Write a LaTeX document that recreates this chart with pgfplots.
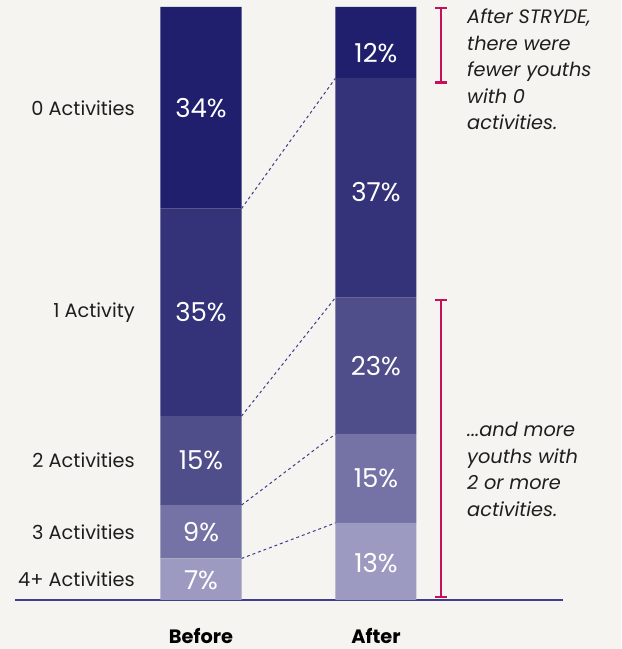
\documentclass[border=0pt]{standalone}
\usepackage{pgfplots}
\pgfplotsset{compat=1.18}
\usepackage{fontspec}
\setmainfont{Poppins}
\definecolor{bg}{HTML}{F5F4F0}
\definecolor{c0}{HTML}{1F1F6E}
\definecolor{c1}{HTML}{34337A}
\definecolor{c2}{HTML}{4F4D8A}
\definecolor{c3}{HTML}{7572A6}
\definecolor{c4}{HTML}{9D9AC2}
\definecolor{axisc}{HTML}{3D3D8F}
\definecolor{brk}{HTML}{C8105A}
\definecolor{txt}{HTML}{1E1E1E}
\pgfplotsset{
  base/.style={at={(0,0)}, anchor=origin, scale only axis, width=411pt, height=444.75pt,
    xmin=-1.063, xmax=2.069, ymin=0, ymax=100, clip=false},
}
\begin{document}
\begin{tikzpicture}
\fill[bg] (-150.75pt,-36.75pt) rectangle (315pt,450pt);
\begin{axis}[base, ybar stacked, bar width=0.463,
  axis x line*=bottom, axis y line=none,
  x axis line style={axisc, line width=0.8pt, -},
  xtick={0,1}, xticklabels={Before,After}, major tick length=0,
  xticklabel style={anchor=base, inner sep=0pt, yshift=-32.6pt, font=\bfseries\fontsize{14.5}{17}\selectfont, text=black}]
\addplot[fill=c4, draw=none] coordinates {(0,7) (1,13)};
\addplot[fill=c3, draw=none] coordinates {(0,9) (1,15)};
\addplot[fill=c2, draw=none] coordinates {(0,15) (1,23)};
\addplot[fill=c1, draw=none] coordinates {(0,35) (1,37)};
\addplot[fill=c0, draw=none] coordinates {(0,34) (1,12)};
\end{axis}
\begin{axis}[base, hide axis]
% dashed connectors
\addplot[axisc, line width=0.75pt, dash pattern=on 2.2pt off 2.2pt] coordinates {(0.2315,7) (0.7685,13)};
\addplot[axisc, line width=0.75pt, dash pattern=on 2.2pt off 2.2pt] coordinates {(0.2315,16) (0.7685,28)};
\addplot[axisc, line width=0.75pt, dash pattern=on 2.2pt off 2.2pt] coordinates {(0.2315,31) (0.7685,51)};
\addplot[axisc, line width=0.75pt, dash pattern=on 2.2pt off 2.2pt] coordinates {(0.2315,66) (0.7685,88)};
% brackets
\addplot[brk, line width=1.9pt] coordinates {(1.371,0.5) (1.371,50.6)};
\addplot[brk, line width=1.9pt] coordinates {(1.337,0.5) (1.405,0.5)};
\addplot[brk, line width=1.9pt] coordinates {(1.337,50.6) (1.405,50.6)};
\addplot[brk, line width=1.9pt] coordinates {(1.371,87.3) (1.371,99.8)};
\addplot[brk, line width=1.9pt] coordinates {(1.337,87.3) (1.405,87.3)};
\addplot[brk, line width=1.9pt] coordinates {(1.337,99.8) (1.405,99.8)};
% segment labels
\begin{scope}[every node/.style={text=white, font=\fontsize{19.5}{22}\selectfont, anchor=center}]
\node at (axis cs:0,3.3) {7\%};
\node at (axis cs:0,11.5) {9\%};
\node at (axis cs:0,23.5) {15\%};
\node at (axis cs:0,48.5) {35\%};
\node at (axis cs:0,83) {34\%};
\node at (axis cs:1,6.3) {13\%};
\node at (axis cs:1,20.5) {15\%};
\node at (axis cs:1,39.5) {23\%};
\node at (axis cs:1,68.8) {37\%};
\node at (axis cs:1,92.3) {12\%};
\end{scope}
% category labels
\begin{scope}[every node/.style={text=txt, font=\fontsize{14.5}{17}\selectfont, anchor=east, inner sep=0pt}]
\node at (axis cs:-0.377,83) {0 Activities};
\node at (axis cs:-0.377,48.5) {1 Activity};
\node at (axis cs:-0.377,23.5) {2 Activities};
\node at (axis cs:-0.377,11.5) {3 Activities};
\node at (axis cs:-0.377,3.5) {4+ Activities};
\end{scope}
% annotations
\node[anchor=north west, inner sep=0pt, align=left, text=txt, font=\itshape\fontsize{14.5}{19.9}\selectfont] at (axis cs:1.52,99.7) {After STRYDE,\\there were\\fewer youths\\with 0\\activities.};
\node[anchor=north west, inner sep=0pt, align=left, text=txt, font=\itshape\fontsize{14.5}{19.9}\selectfont] at (axis cs:1.52,30.0) {...and more\\youths with\\2 or more\\activities.};
\end{axis}
\end{tikzpicture}
\end{document}
